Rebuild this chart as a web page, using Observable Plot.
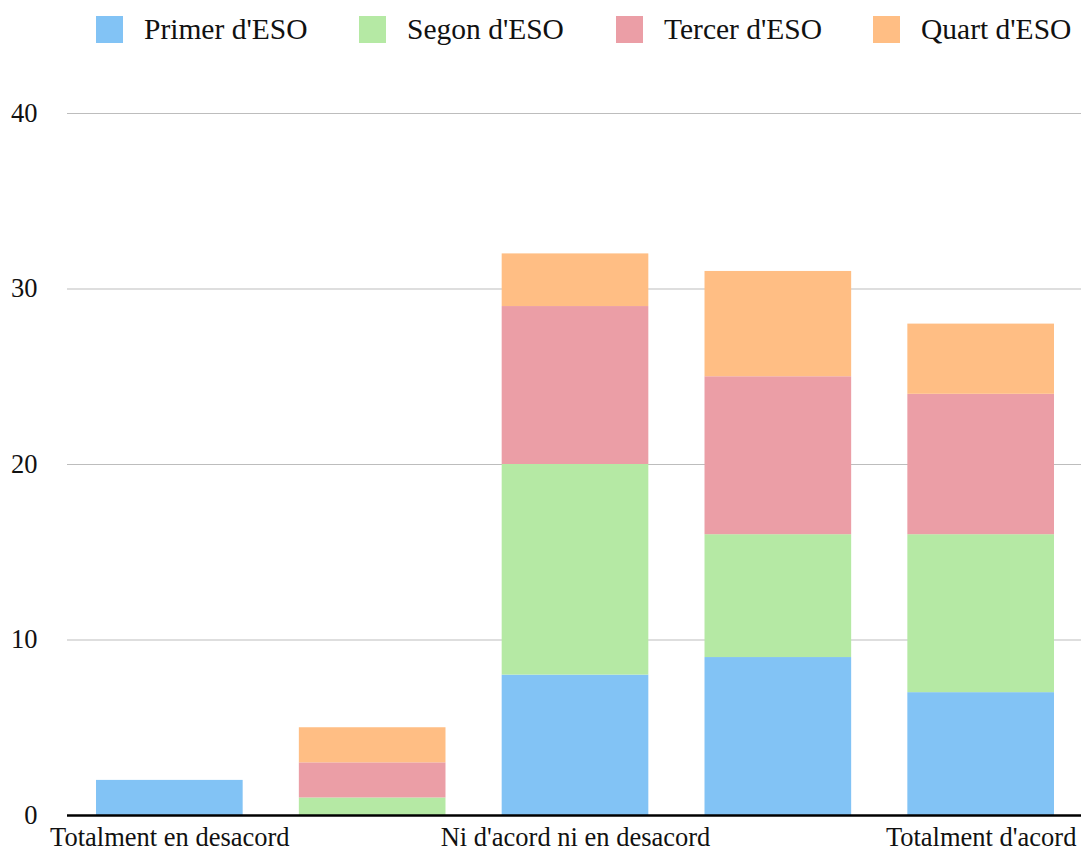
<!DOCTYPE html>
<html>
<head>
<meta charset="utf-8">
<script src="https://cdn.jsdelivr.net/npm/d3@7"></script>
<script src="https://cdn.jsdelivr.net/npm/@observablehq/plot@0.6"></script>
<style>
  body { margin: 0; background: #fff; font-family: "Liberation Serif", "Times New Roman", serif; overflow: hidden; }
  #legend { position: relative; height: 60px; width: 1081px; }
  .item { position: absolute; top: 16px; height: 27px; display: flex; align-items: center; font-size: 29.5px; color: #111; white-space: nowrap; }
  .sw { width: 27px; height: 27px; margin-right: 21px; flex: none; }
  #chart svg { display: block; }
</style>
</head>
<body>
<div id="legend"></div>
<div id="chart"></div>
<script>
const categories = ["Totalment en desacord", "En desacord", "Ni d'acord ni en desacord", "D'acord", "Totalment d'acord"];
const shownLabels = ["Totalment en desacord", "Ni d'acord ni en desacord", "Totalment d'acord"];
const seriesNames = ["Primer d'ESO", "Segon d'ESO", "Tercer d'ESO", "Quart d'ESO"];
const colors = ["#82c3f5", "#b5e9a4", "#eb9ea6", "#ffbe84"];
const primer = [2, 0, 8, 9, 7];
const segon  = [0, 1, 12, 7, 9];
const tercer = [0, 2, 9, 9, 8];
const quart  = [0, 2, 3, 6, 4];
const yTicks = [0, 10, 20, 30, 40];

const seriesValues = [primer, segon, tercer, quart];
const data = [];
seriesNames.forEach((s, si) => categories.forEach((c, ci) => data.push({category: c, series: s, value: seriesValues[si][ci]})));

// legend
const legendX = [96, 359, 616, 873];
const legend = document.getElementById("legend");
seriesNames.forEach((s, i) => {
  const d = document.createElement("div");
  d.className = "item";
  d.style.left = legendX[i] + "px";
  d.innerHTML = `<div class="sw" style="background:${colors[i]}"></div><span>${s}</span>`;
  legend.appendChild(d);
});

const chart = Plot.plot({
  width: 1081,
  height: 792,
  marginLeft: 67,
  marginRight: -2,
  marginTop: 53,
  marginBottom: 37,
  style: {fontFamily: "Liberation Serif, Times New Roman, serif", fontSize: "26px", color: "#111", background: "#fff", overflow: "hidden"},
  x: {domain: categories, paddingInner: 0.277, paddingOuter: 0.143, round: false, label: null},
  y: {domain: [0, 40], ticks: yTicks, label: null},
  color: {domain: seriesNames, range: colors},
  marks: [
    Plot.ruleY(yTicks.filter(d => d > 0), {stroke: "#bdbdbd", strokeWidth: 1}),
    Plot.barY(data, {x: "category", y: "value", fill: "series", order: seriesNames}),
    Plot.ruleY([0], {stroke: "#000", strokeWidth: 2.5}),
    Plot.axisY({ticks: yTicks, tickSize: 0, tickPadding: 30, fontSize: 26.5, label: null}),
    Plot.axisX({tickSize: 0, tickPadding: 12, fontSize: 26.5, label: null,
      tickFormat: d => shownLabels.includes(d) ? d : ""})
  ]
});
document.getElementById("chart").appendChild(chart);
</script>
</body>
</html>
